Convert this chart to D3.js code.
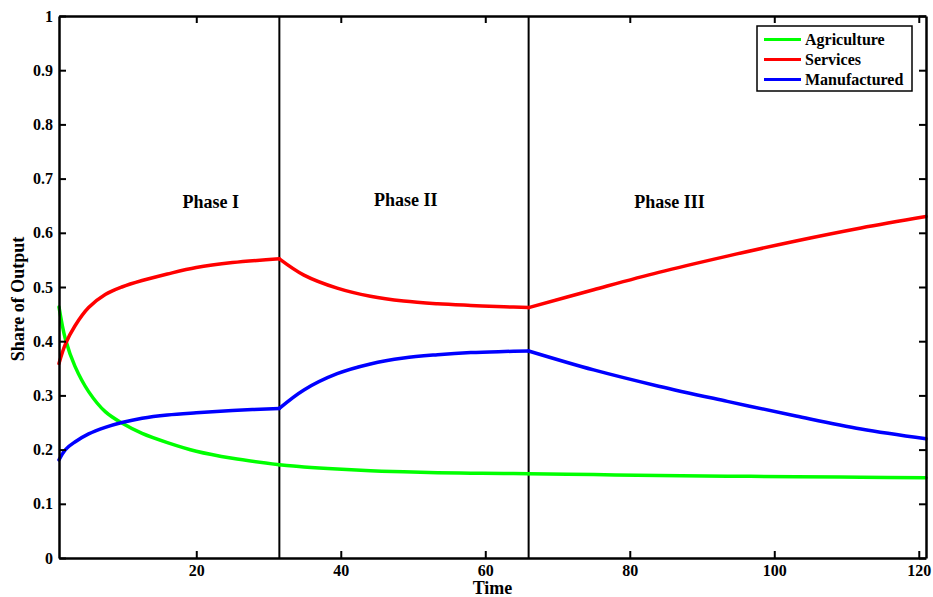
<!DOCTYPE html>
<html>
<head>
<meta charset="utf-8">
<script src="https://cdn.jsdelivr.net/npm/d3@7"></script>
<style>
  body { margin: 0; background: #fff; }
  svg text { font-family: "Liberation Serif", "Times New Roman", serif; font-weight: bold; fill: #000; }
</style>
</head>
<body>
<div id="chart"></div>
<script>
// sample times (model periods)
const times = [1, 1.9, 3.2, 5.1, 7.4, 9.7, 12.5, 16, 20, 25, 31.5, 34.9, 39.5, 44.1, 48.7, 53.4, 58, 62.6, 66, 75, 84, 93.5, 103, 112, 121];

const agriculture = [0.463, 0.403, 0.354, 0.307, 0.270, 0.249, 0.230, 0.213, 0.197, 0.184, 0.172, 0.168, 0.164, 0.161, 0.159, 0.1575, 0.1565, 0.156, 0.1555, 0.154, 0.152, 0.151, 0.150, 0.149, 0.148];
const services = [0.359, 0.395, 0.428, 0.462, 0.486, 0.500, 0.512, 0.524, 0.536, 0.545, 0.552, 0.522, 0.498, 0.483, 0.474, 0.469, 0.466, 0.4635, 0.462, 0.495, 0.527, 0.557, 0.585, 0.609, 0.630];
const manufactured = [0.181, 0.200, 0.214, 0.229, 0.241, 0.250, 0.258, 0.264, 0.268, 0.272, 0.276, 0.310, 0.340, 0.358, 0.369, 0.375, 0.379, 0.381, 0.382, 0.347, 0.317, 0.289, 0.262, 0.238, 0.220];

const seriesNames = ["Agriculture", "Services", "Manufactured"];
const seriesColors = ["#00ff00", "#ff0000", "#0000ff"];

const phaseBreaks = [31.5, 66];
const phaseLabels = ["Phase I", "Phase II", "Phase III"];
const phaseLabelAt = [[22, 0.645], [49, 0.65], [85.5, 0.645]];

const xTicks = [20, 40, 60, 80, 100, 120];
const yTicks = [0, 0.1, 0.2, 0.3, 0.4, 0.5, 0.6, 0.7, 0.8, 0.9, 1];

const width = 933, height = 597;
const margin = { top: 16, right: 7, bottom: 39, left: 59 };

const svg = d3.select("#chart").append("svg")
    .attr("width", width)
    .attr("height", height);

const x = d3.scaleLinear()
    .domain([1, 121])
    .range([margin.left, width - margin.right]);
const y = d3.scaleLinear()
    .domain([0, 1])
    .range([height - margin.bottom, margin.top]);

const series = [agriculture, services, manufactured].map((vals, i) => ({
    name: seriesNames[i],
    color: seriesColors[i],
    values: vals.map((v, j) => ({ t: times[j], v: v }))
}));

// each phase is drawn as its own smooth piece, so the regime changes stay sharp
const bounds = [times[0], ...phaseBreaks, times[times.length - 1]];
const pieces = [];
series.forEach(s => {
    for (let p = 0; p < bounds.length - 1; p++) {
        pieces.push({
            color: s.color,
            values: s.values.filter(d => d.t >= bounds[p] && d.t <= bounds[p + 1])
        });
    }
});

// phase separators
svg.append("g").selectAll("line")
    .data(phaseBreaks)
    .join("line")
    .attr("x1", d => x(d)).attr("x2", d => x(d))
    .attr("y1", y(0)).attr("y2", y(1))
    .attr("stroke", "#000")
    .attr("stroke-width", 2);

const line = d3.line()
    .x(d => x(d.t))
    .y(d => y(d.v))
    .curve(d3.curveCatmullRom.alpha(0.5));

svg.append("g").selectAll("path")
    .data(pieces)
    .join("path")
    .attr("fill", "none")
    .attr("stroke", d => d.color)
    .attr("stroke-width", 3.5)
    .attr("stroke-linejoin", "round")
    .attr("stroke-linecap", "round")
    .attr("d", d => line(d.values));

// axes, ticks pointing inward on all four sides
const styleAxis = g => {
    g.select(".domain").attr("stroke-width", 2.5);
    g.selectAll(".tick line").attr("stroke-width", 2);
    g.selectAll(".tick text").attr("font-size", 16).attr("font-family", null);
};

svg.append("g")
    .attr("transform", `translate(0,${y(0)})`)
    .call(d3.axisBottom(x).tickValues(xTicks).tickSizeInner(-7).tickSizeOuter(0).tickPadding(7).tickFormat(d3.format("d")))
    .call(styleAxis);

svg.append("g")
    .attr("transform", `translate(0,${y(1)})`)
    .call(d3.axisTop(x).tickValues(xTicks).tickSizeInner(-7).tickSizeOuter(0).tickFormat(""))
    .call(styleAxis);

svg.append("g")
    .attr("transform", `translate(${x(1)},0)`)
    .call(d3.axisLeft(y).tickValues(yTicks).tickSizeInner(-7).tickSizeOuter(0).tickPadding(6).tickFormat(d => d3.format("")(+d.toFixed(1))))
    .call(styleAxis);

svg.append("g")
    .attr("transform", `translate(${x(121)},0)`)
    .call(d3.axisRight(y).tickValues(yTicks).tickSizeInner(-7).tickSizeOuter(0).tickFormat(""))
    .call(styleAxis);

// phase labels
svg.append("g").selectAll("text")
    .data(phaseLabels)
    .join("text")
    .attr("x", (d, i) => x(phaseLabelAt[i][0]))
    .attr("y", (d, i) => y(phaseLabelAt[i][1]))
    .attr("text-anchor", "middle")
    .attr("font-size", 18)
    .text(d => d);

// axis titles
svg.append("text")
    .attr("x", (x(1) + x(121)) / 2)
    .attr("y", height - 3)
    .attr("text-anchor", "middle")
    .attr("font-size", 18)
    .text("Time");

svg.append("text")
    .attr("transform", `translate(24,${(y(0) + y(1)) / 2 + 12}) rotate(-90)`)
    .attr("text-anchor", "middle")
    .attr("font-size", 18)
    .text("Share of Output");

// legend
const legend = svg.append("g").attr("transform", "translate(757,26)");
legend.append("rect")
    .attr("width", 155).attr("height", 65)
    .attr("fill", "#fff").attr("stroke", "#000").attr("stroke-width", 1.5);
const item = legend.selectAll("g")
    .data(series)
    .join("g")
    .attr("transform", (d, i) => `translate(0,${13.5 + i * 20})`);
item.append("line")
    .attr("x1", 7).attr("x2", 44)
    .attr("stroke", d => d.color)
    .attr("stroke-width", 3);
item.append("text")
    .attr("x", 48).attr("dy", "0.33em")
    .attr("font-size", 16)
    .text(d => d.name);
</script>
</body>
</html>
